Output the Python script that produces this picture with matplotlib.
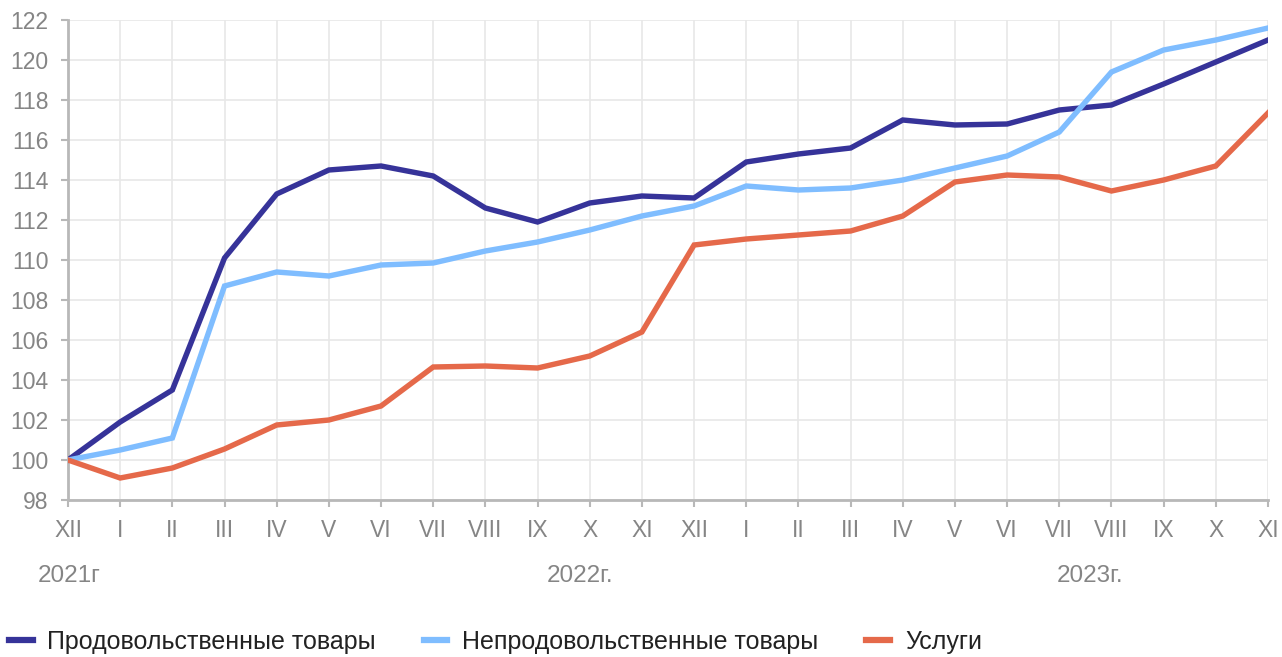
import matplotlib
matplotlib.use("Agg")
import matplotlib.pyplot as plt
from matplotlib.lines import Line2D

plt.rcParams['font.family'] = ['Liberation Sans', 'DejaVu Sans']

months = ["XII", "I", "II", "III", "IV", "V", "VI", "VII", "VIII", "IX", "X", "XI",
          "XII", "I", "II", "III", "IV", "V", "VI", "VII", "VIII", "IX", "X", "XI"]
year_labels = ["2021г", "2022г.", "2023г."]

food = [100, 101.9, 103.5, 110.1, 113.3, 114.5, 114.7, 114.2, 112.6, 111.9, 112.85, 113.2,
        113.1, 114.9, 115.3, 115.6, 117.0, 116.75, 116.8, 117.5, 117.75, 118.8, 119.9, 121.0]
nonfood = [100, 100.5, 101.1, 108.7, 109.4, 109.2, 109.75, 109.85, 110.45, 110.9, 111.5, 112.2,
           112.7, 113.7, 113.5, 113.6, 114.0, 114.6, 115.2, 116.4, 119.4, 120.5, 121.0, 121.6]
services = [100, 99.1, 99.6, 100.55, 101.75, 102.0, 102.7, 104.65, 104.7, 104.6, 105.2, 106.4,
            110.75, 111.05, 111.25, 111.45, 112.2, 113.9, 114.25, 114.15, 113.45, 114.0, 114.7, 117.35]

names = ["Продовольственные товары", "Непродовольственные товары", "Услуги"]
colors = ["#363399", "#7fbdff", "#e5694a"]

fig = plt.figure(figsize=(12.82, 6.57), dpi=100)
ax = fig.add_axes([68/1282, 1-500/657, 1200/1282, 480/657])

x = list(range(len(months)))
for vals, c in zip([food, nonfood, services], colors):
    ax.plot(x, vals, color=c, lw=3.9, solid_joinstyle='miter', zorder=3)

ax.set_xlim(0, len(months)-1)
ax.set_ylim(98, 122)
ax.set_yticks(range(98, 123, 2))
ax.set_xticks(x)
ax.set_xticklabels(months)
ax.grid(True, color="#e8e8e8", lw=1.2)
ax.set_axisbelow(True)
for s in ["top", "right"]:
    ax.spines[s].set_visible(False)
for s in ["left", "bottom"]:
    ax.spines[s].set_color("#b8b8b8")
    ax.spines[s].set_linewidth(2)
ax.tick_params(axis='both', colors="#b8b8b8", labelcolor="#858585", labelsize=16.5,
               length=5, width=1.5)
ax.tick_params(axis='y', pad=9)
ax.tick_params(axis='x', pad=9)

# year labels
year_pos = [0.02, 9.81, 19.59]
for xp, t in zip(year_pos, year_labels):
    ax.text(xp, -76/480, t, transform=ax.get_xaxis_transform(), ha='center', va='center',
            fontsize=17.5, color="#858585")

handles = [Line2D([], [], color=c, lw=4.5) for c in colors]
fig.legend(handles, names, loc='center left', bbox_to_anchor=(0.0, 1-642/657), ncol=3,
           frameon=False, fontsize=18, handlelength=0.95, handletextpad=0.6,
           columnspacing=1.9, labelcolor="#222222", borderaxespad=0.0, borderpad=0.35)

fig.savefig("out.png", dpi=100)
